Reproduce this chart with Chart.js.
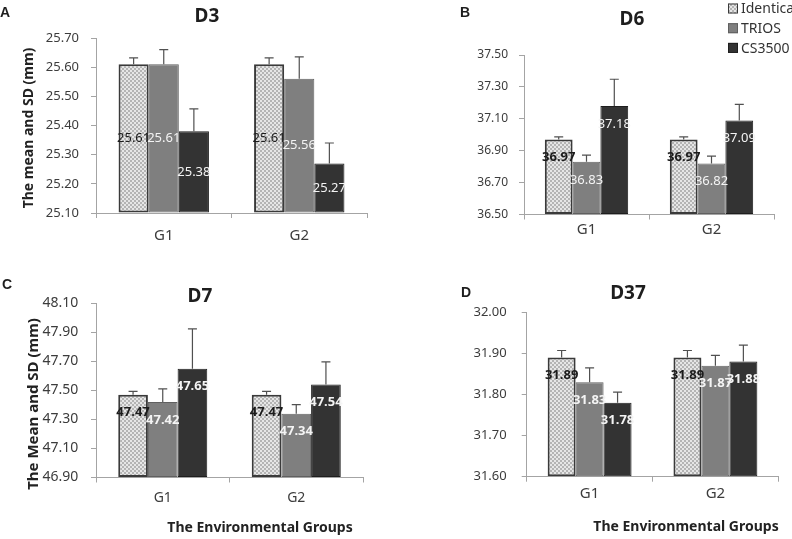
<!DOCTYPE html>
<html><head><meta charset="utf-8">
<script src="https://cdn.jsdelivr.net/npm/chart.js@4.4.1/dist/chart.umd.min.js"></script>
<style>
html,body{margin:0;padding:0;background:#fff;}
#wrap{position:relative;width:792px;height:539px;overflow:hidden;background:#fff;}
canvas{position:absolute;}
</style></head><body>
<div id="wrap">
<canvas id="cA" width="396" height="270" style="left:0;top:0"></canvas>
<canvas id="cB" width="396" height="270" style="left:396px;top:0"></canvas>
<canvas id="cC" width="396" height="269" style="left:0;top:270px"></canvas>
<canvas id="cD" width="396" height="269" style="left:396px;top:270px"></canvas>
</div>
<script>
// ---------- data ----------
const groups = ['G1', 'G2'];
const seriesNames = ['Identica', 'TRIOS', 'CS3500'];

// D3
const d3Identica = [25.61, 25.61];
const d3Trios    = [25.61, 25.56];
const d3Cs3500   = [25.38, 25.27];
const d3IdenticaSD = [0.022, 0.022];
const d3TriosSD    = [0.050, 0.075];
const d3Cs3500SD   = [0.077, 0.070];
const d3Ticks = [25.10, 25.20, 25.30, 25.40, 25.50, 25.60, 25.70];

// D6
const d6Identica = [36.97, 36.97];
const d6Trios    = [36.83, 36.82];
const d6Cs3500   = [37.18, 37.09];
const d6IdenticaSD = [0.017, 0.017];
const d6TriosSD    = [0.042, 0.046];
const d6Cs3500SD   = [0.168, 0.100];
const d6Ticks = [36.50, 36.70, 36.90, 37.10, 37.30, 37.50];

// D7
const d7Identica = [47.47, 47.47];
const d7Trios    = [47.42, 47.34];
const d7Cs3500   = [47.65, 47.54];
const d7IdenticaSD = [0.023, 0.023];
const d7TriosSD    = [0.090, 0.062];
const d7Cs3500SD   = [0.274, 0.157];
const d7Ticks = [46.90, 47.10, 47.30, 47.50, 47.70, 47.90, 48.10];

// D37
const d37Identica = [31.89, 31.89];
const d37Trios    = [31.83, 31.87];
const d37Cs3500   = [31.78, 31.88];
const d37IdenticaSD = [0.017, 0.017];
const d37TriosSD    = [0.035, 0.025];
const d37Cs3500SD   = [0.026, 0.040];
const d37Ticks = [31.60, 31.70, 31.80, 31.90, 32.00];

// ---------- drawing ----------
Chart.defaults.font.family = '"Noto Sans", "DejaVu Sans", sans-serif';

function makePattern(ctx) {
  const t = document.createElement('canvas');
  t.width = 4; t.height = 4;
  const x = t.getContext('2d');
  x.fillStyle = '#b4b4b4'; x.fillRect(0, 0, 4, 4);
  x.fillStyle = '#e6e6e6'; x.fillRect(0, 0, 2, 2); x.fillRect(2, 2, 2, 2);
  return ctx.createPattern(t, 'repeat');
}

const decor = {
  id: 'decor',
  afterDatasetsDraw(chart, args, o) {
    const ctx = chart.ctx, ys = chart.scales.y;
    // error bars
    chart.data.datasets.forEach((ds, di) => {
      chart.getDatasetMeta(di).data.forEach((bar, i) => {
        const top = ys.getPixelForValue(ds.data[i] + ds.sd[i]);
        ctx.save();
        ctx.strokeStyle = '#505050'; ctx.lineWidth = 1.2;
        ctx.beginPath();
        ctx.moveTo(bar.x, bar.y); ctx.lineTo(bar.x, top);
        ctx.moveTo(bar.x - 4.5, top); ctx.lineTo(bar.x + 4.5, top);
        ctx.stroke();
        ctx.restore();
      });
    });
    // value labels
    chart.data.datasets.forEach((ds, di) => {
      chart.getDatasetMeta(di).data.forEach((bar, i) => {
        const ly = o.labelMode === 'center' ? (bar.y + bar.base) / 2 : bar.y + o.labelOffset;
        ctx.save();
        ctx.font = (ds.labelBold ? 'bold ' : '') + o.labelSize + 'px "Noto Sans"';
        ctx.fillStyle = ds.labelColor;
        ctx.textAlign = 'center'; ctx.textBaseline = 'middle';
        ctx.fillText(ds.data[i].toFixed(2), bar.x, ly);
        ctx.restore();
      });
    });
  },
  afterDraw(chart, args, o) {
    const ctx = chart.ctx;
    (o.texts || []).forEach(t => {
      ctx.save();
      ctx.font = t.font; ctx.fillStyle = t.color || '#1e1e1e';
      ctx.textAlign = t.align || 'center'; ctx.textBaseline = 'middle';
      ctx.translate(t.x, t.y);
      if (t.rot) ctx.rotate(t.rot);
      ctx.fillText(t.text, 0, 0);
      ctx.restore();
    });
    if (o.legend) {
      const L = o.legend;
      chart.data.datasets.forEach((ds, i) => {
        const cy = L.y + i * L.gap;
        ctx.save();
        ctx.fillStyle = ds.backgroundColor;
        ctx.fillRect(L.x, cy - 5, 10, 10);
        ctx.strokeStyle = ds.borderColor; ctx.lineWidth = 1;
        ctx.strokeRect(L.x + 0.5, cy - 4.5, 9, 9);
        ctx.font = '14px "Noto Sans"'; ctx.fillStyle = '#333';
        ctx.textAlign = 'left'; ctx.textBaseline = 'middle';
        ctx.fillText(ds.label, L.x + 13, cy + 1);
        ctx.restore();
      });
    }
  }
};

function buildChart(id, geo, series, sds, ticks, decorOpts) {
  const canvas = document.getElementById(id);
  const ctx = canvas.getContext('2d');
  const pattern = makePattern(ctx);
  const base = ticks[0];
  const axisCol = '#a4a4a4';
  return new Chart(ctx, {
    type: 'bar',
    data: {
      labels: groups,
      datasets: [
        {label: seriesNames[0], data: series[0], sd: sds[0], base: base, backgroundColor: pattern,
         borderColor: '#3a3a3a', borderWidth: 2, labelColor: '#1c1c1c', labelBold: decorOpts.boldFirst},
        {label: seriesNames[1], data: series[1], sd: sds[1], base: base, backgroundColor: '#7f7f7f',
         borderColor: '#606060', borderWidth: 1, labelColor: '#f4f4f4', labelBold: decorOpts.boldOthers},
        {label: seriesNames[2], data: series[2], sd: sds[2], base: base, backgroundColor: '#333333',
         borderColor: '#1e1e1e', borderWidth: 1, labelColor: '#f4f4f4', labelBold: decorOpts.boldOthers}
      ]
    },
    options: {
      responsive: false, animation: false, devicePixelRatio: 1,
      layout: {padding: {left: 0, top: geo.t, right: canvas.width - geo.r, bottom: 0}},
      datasets: {bar: {categoryPercentage: 0.667, barPercentage: 1, borderSkipped: false}},
      scales: {
        x: {
          offset: true,
          grid: {offset: true, drawOnChartArea: false, drawTicks: true, tickLength: 5, color: axisCol},
          border: {color: axisCol, width: 1},
          ticks: {padding: geo.xPad, color: '#3c3c3c', font: {size: geo.xFont}},
          afterFit: s => { s.height = canvas.height - geo.b; }
        },
        y: {
          min: ticks[0], max: ticks[ticks.length - 1],
          afterBuildTicks: s => { s.ticks = ticks.map(v => ({value: v})); },
          grid: {drawOnChartArea: false, drawTicks: true, tickLength: 5, color: axisCol},
          border: {color: axisCol, width: 1},
          ticks: {padding: geo.yPad, color: '#3c3c3c', font: {size: geo.yFont},
                  callback: v => Number(v).toFixed(2)},
          afterFit: s => { s.width = geo.l; }
        }
      },
      plugins: {
        legend: {display: false}, title: {display: false}, tooltip: {enabled: false},
        decor: decorOpts
      }
    },
    plugins: [decor]
  });
}

const letterFont = 'bold 14px "Liberation Sans"';
const titleFont = 'bold 19px "Noto Sans"';

buildChart('cA', {l: 96, t: 38, r: 367, b: 213, xPad: 9, yPad: 12, xFont: 15, yFont: 13},
  [d3Identica, d3Trios, d3Cs3500], [d3IdenticaSD, d3TriosSD, d3Cs3500SD], d3Ticks,
  {labelMode: 'center', labelOffset: 0, labelSize: 13, boldFirst: false, boldOthers: false,
   texts: [
     {text: 'A', x: 5, y: 13, font: letterFont},
     {text: 'D3', x: 207, y: 17, font: titleFont},
     {text: 'The mean and SD (mm)', x: 29, y: 128, rot: -Math.PI / 2, font: 'bold 14px "Noto Sans"', color: '#222'}
   ]});

buildChart('cB', {l: 128, t: 55, r: 378, b: 214.5, xPad: 1, yPad: 11, xFont: 15, yFont: 12},
  [d6Identica, d6Trios, d6Cs3500], [d6IdenticaSD, d6TriosSD, d6Cs3500SD], d6Ticks,
  {labelMode: 'end', labelOffset: 18, labelSize: 13, boldFirst: true, boldOthers: false,
   legend: {x: 332, y: 8.5, gap: 19.7},
   texts: [
     {text: 'B', x: 69, y: 13, font: letterFont},
     {text: 'D6', x: 236, y: 20, font: titleFont}
   ]});

buildChart('cC', {l: 96, t: 33.3, r: 363, b: 207.5, xPad: 7, yPad: 12.7, xFont: 14, yFont: 14},
  [d7Identica, d7Trios, d7Cs3500], [d7IdenticaSD, d7TriosSD, d7Cs3500SD], d7Ticks,
  {labelMode: 'end', labelOffset: 18, labelSize: 13, boldFirst: true, boldOthers: true,
   texts: [
     {text: 'C', x: 7, y: 15, font: letterFont},
     {text: 'D7', x: 200, y: 27, font: titleFont},
     {text: 'The Mean and SD (mm)', x: 34, y: 134, rot: -Math.PI / 2, font: 'bold 15px "Noto Sans"', color: '#222'},
     {text: 'The Environmental Groups', x: 260, y: 258, font: 'bold 14px "Noto Sans"', color: '#222'}
   ]});

buildChart('cD', {l: 130.7, t: 42.3, r: 382.3, b: 206.7, xPad: 3.5, yPad: 15, xFont: 15, yFont: 13},
  [d37Identica, d37Trios, d37Cs3500], [d37IdenticaSD, d37TriosSD, d37Cs3500SD], d37Ticks,
  {labelMode: 'end', labelOffset: 18, labelSize: 13, boldFirst: true, boldOthers: true,
   texts: [
     {text: 'D', x: 70, y: 23, font: letterFont},
     {text: 'D37', x: 232, y: 24, font: titleFont},
     {text: 'The Environmental Groups', x: 290, y: 257, font: 'bold 14px "Noto Sans"', color: '#222'}
   ]});
</script>
</body></html>
